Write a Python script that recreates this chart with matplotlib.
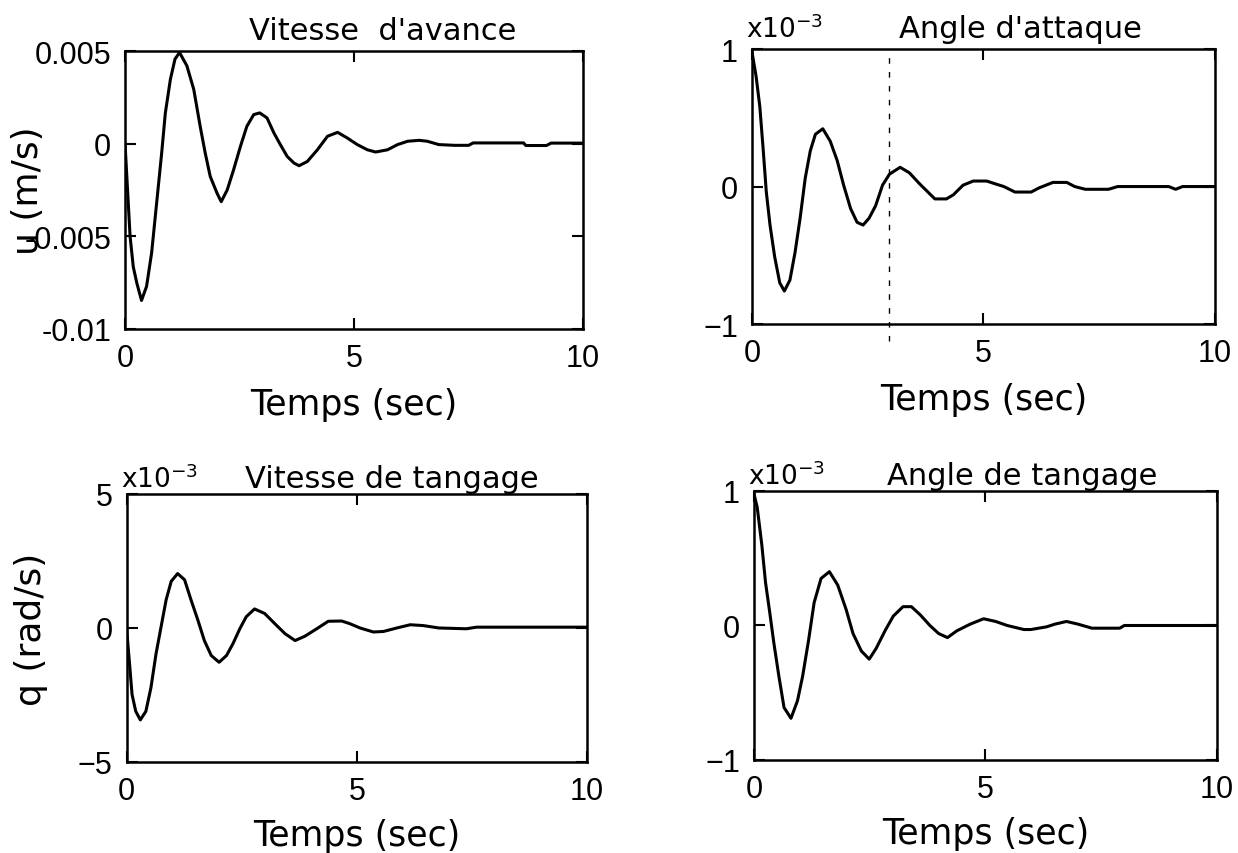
import matplotlib
matplotlib.use("Agg")
import matplotlib.pyplot as plt

plt.rcParams['font.family'] = ['DejaVu Sans']
plt.rcParams['mathtext.default'] = 'regular'

# Vitesse d'avance u (m/s)
t_u = [0.0, 0.11, 0.18, 0.26, 0.36, 0.47, 0.58, 0.69, 0.80, 0.88, 0.99, 1.09, 1.19,
       1.35, 1.50, 1.64, 1.75, 1.86, 2.01, 2.10, 2.23, 2.37, 2.52, 2.66, 2.81, 2.94,
       3.10, 3.25, 3.39, 3.54, 3.69, 3.80, 3.98, 4.20, 4.42, 4.64, 4.85, 5.07, 5.29,
       5.47, 5.73, 5.95, 6.17, 6.42, 6.6, 6.85, 7.2, 7.5, 7.6, 8.7, 8.75, 9.2, 9.3, 10.0]
u_vals = [0.0, -5.0e-3, -6.65e-3, -7.55e-3, -8.46e-3, -7.7e-3, -5.9e-3, -3.2e-3, -0.5e-3,
          1.66e-3, 3.47e-3, 4.56e-3, 4.92e-3, 4.2e-3, 2.93e-3, 0.94e-3, -0.5e-3, -1.77e-3,
          -2.68e-3, -3.13e-3, -2.5e-3, -1.41e-3, -0.14e-3, 0.94e-3, 1.57e-3, 1.66e-3,
          1.39e-3, 0.58e-3, -0.05e-3, -0.69e-3, -1.05e-3, -1.19e-3, -0.96e-3, -0.33e-3,
          0.40e-3, 0.61e-3, 0.31e-3, -0.05e-3, -0.33e-3, -0.45e-3, -0.33e-3, -0.05e-3,
          0.13e-3, 0.18e-3, 0.13e-3, -0.05e-3, -0.09e-3, -0.09e-3, 0.04e-3, 0.04e-3,
          -0.1e-3, -0.1e-3, 0.03e-3, 0.03e-3]

# Angle d'attaque (x1e-3)
t_a = [0.0, 0.09, 0.17, 0.24, 0.31, 0.39, 0.49, 0.60, 0.70, 0.82, 0.93, 1.04, 1.15,
       1.26, 1.37, 1.53, 1.69, 1.84, 1.98, 2.13, 2.27, 2.40, 2.53, 2.67, 2.82, 2.97,
       3.20, 3.40, 3.62, 3.80, 3.95, 4.20, 4.35, 4.56, 4.78, 5.07, 5.25, 5.44, 5.68,
       6.03, 6.2, 6.5, 6.8, 6.97, 7.2, 7.7, 7.9, 9.0, 9.15, 9.3, 10.0]
a_vals = [0.98, 0.80, 0.58, 0.28, -0.04, -0.28, -0.51, -0.70, -0.76, -0.68, -0.48,
          -0.23, 0.06, 0.26, 0.38, 0.42, 0.33, 0.19, 0.01, -0.16, -0.26, -0.28, -0.23,
          -0.14, 0.01, 0.09, 0.14, 0.10, 0.02, -0.04, -0.09, -0.09, -0.06, 0.01, 0.04,
          0.04, 0.02, 0.0, -0.04, -0.04, -0.01, 0.03, 0.03, 0.0, -0.02, -0.02, 0.0, 0.0,
          -0.02, 0.0, 0.0]

# Vitesse de tangage q (x1e-3 rad/s)
t_q = [0.0, 0.06, 0.12, 0.20, 0.30, 0.42, 0.53, 0.64, 0.75, 0.86, 0.97, 1.11, 1.26,
       1.40, 1.55, 1.69, 1.84, 2.01, 2.17, 2.31, 2.46, 2.60, 2.78, 3.00, 3.22, 3.44,
       3.66, 3.87, 4.13, 4.38, 4.67, 4.85, 5.07, 5.36, 5.58, 5.87, 6.16, 6.44, 6.78,
       7.38, 7.6, 10.0]
q_vals = [0.0, -1.22, -2.48, -3.11, -3.43, -3.11, -2.23, -0.97, 0.04, 1.05, 1.74, 2.03,
          1.80, 1.05, 0.29, -0.47, -1.03, -1.28, -1.03, -0.59, -0.03, 0.42, 0.71, 0.54,
          0.16, -0.21, -0.47, -0.31, -0.03, 0.25, 0.26, 0.16, 0.0, -0.15, -0.13, 0.0,
          0.12, 0.09, 0.0, -0.03, 0.03, 0.03]

# Angle de tangage (x1e-3)
t_th = [0.0, 0.07, 0.17, 0.25, 0.34, 0.43, 0.54, 0.65, 0.80, 0.94, 1.05, 1.18, 1.30,
        1.45, 1.63, 1.81, 1.99, 2.14, 2.32, 2.49, 2.64, 2.83, 3.01, 3.22, 3.40, 3.59,
        3.80, 3.99, 4.18, 4.38, 4.67, 4.96, 5.22, 5.47, 5.83, 5.98, 6.32, 6.5, 6.75,
        7.0, 7.3, 7.9, 8.0, 10.0]
th_vals = [0.98, 0.88, 0.60, 0.32, 0.10, -0.13, -0.38, -0.61, -0.69, -0.56, -0.38,
           -0.11, 0.17, 0.35, 0.40, 0.30, 0.12, -0.06, -0.19, -0.25, -0.17, -0.04, 0.07,
           0.14, 0.14, 0.08, 0.0, -0.06, -0.09, -0.04, 0.01, 0.05, 0.03, 0.0, -0.03,
           -0.03, -0.01, 0.01, 0.03, 0.01, -0.02, -0.02, 0.0, 0.0]

xticks = [0, 5, 10]
u_ticks = [0.005, 0, -0.005, -0.01]
u_labels = ['0.005', '0', '-0.005', '-0.01']

fig = plt.figure(figsize=(12.38, 8.54), dpi=100)
ax_u = fig.add_axes([0.101, 0.6136, 0.370, 0.3255])
ax_a = fig.add_axes([0.6074, 0.6194, 0.374, 0.322])
ax_q = fig.add_axes([0.1022, 0.1066, 0.372, 0.3138])
ax_th = fig.add_axes([0.609, 0.1089, 0.374, 0.315])


def style(ax, ylim, yticks, ylabels=None):
    ax.set_xlim(0, 10)
    ax.set_ylim(*ylim)
    ax.set_xticks(xticks)
    if ylabels is None:
        ax.set_yticks(yticks)
    else:
        ax.set_yticks(yticks, ylabels)
    ax.tick_params(direction='in', length=8, width=1.5, top=True, right=True,
                   labelsize=22, labelfontfamily='Liberation Sans', pad=10)
    for sp in ax.spines.values():
        sp.set_linewidth(1.8)
    ax.set_xlabel('Temps (sec)', fontsize=25)
    ax.xaxis.set_label_coords(0.5, -0.21)


def head(ax, title, tx, ty, sci=True):
    if sci:
        ax.text(-0.012, ty, r'x10$^{-3}$', transform=ax.transAxes, fontsize=19,
                ha='left', va='baseline')
    ax.text(tx, ty, title, transform=ax.transAxes, fontsize=22,
            ha='center', va='baseline')


ax_u.plot(t_u, u_vals, color='black', lw=2.2)
style(ax_u, (-0.01, 0.005), u_ticks, u_labels)
ax_u.set_ylabel('u (m/s)', fontsize=26)
ax_u.yaxis.set_label_coords(-0.175, 0.5)
head(ax_u, "Vitesse  d'avance", 0.563, 1.043, sci=False)

ax_a.plot(t_a, a_vals, color='black', lw=2.2)
style(ax_a, (-1, 1), [-1, 0, 1])
head(ax_a, "Angle d'attaque", 0.579, 1.044)
# trait pointillé vertical visible sur le document d'origine
ax_a.axvline(2.95, ymin=-0.06, ymax=1.0, color='black', lw=1,
             linestyle=(0, (4, 6)), clip_on=False)

ax_q.plot(t_q, q_vals, color='black', lw=2.2)
style(ax_q, (-5, 5), [-5, 0, 5])
ax_q.set_ylabel('q (rad/s)', fontsize=26)
ax_q.yaxis.set_label_coords(-0.17, 0.5)
head(ax_q, 'Vitesse de tangage', 0.576, 1.026)

ax_th.plot(t_th, th_vals, color='black', lw=2.2)
style(ax_th, (-1, 1), [-1, 0, 1])
head(ax_th, 'Angle de tangage', 0.579, 1.026)

fig.savefig('out.png', dpi=100)
